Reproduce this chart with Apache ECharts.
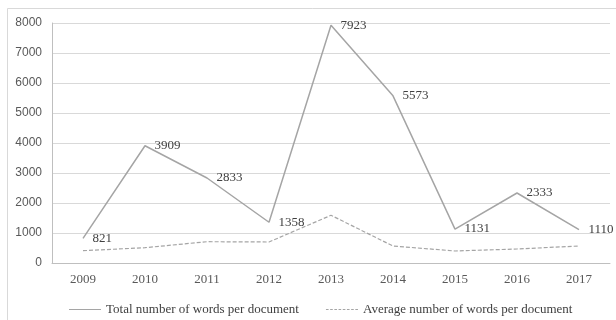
<!DOCTYPE html>
<html>
<head>
<meta charset="utf-8">
<script src="https://cdn.jsdelivr.net/npm/echarts@6/dist/echarts.min.js"></script>
<style>
  html, body { margin: 0; padding: 0; background: #ffffff; }
  #chart { width: 616px; height: 320px; }
</style>
</head>
<body>
<div id="chart"></div>
<script>
// Years on the horizontal axis
const years = ['2009', '2010', '2011', '2012', '2013', '2014', '2015', '2016', '2017'];
// Total number of words per document (labelled values)
const totalWords = [821, 3909, 2833, 1358, 7923, 5573, 1131, 2333, 1110];
// Average number of words per document
const averageWords = [410, 510, 710, 700, 1590, 567, 400, 467, 567];
// Value axis ticks
const yTicks = [0, 1000, 2000, 3000, 4000, 5000, 6000, 7000, 8000];

const serif = '"Liberation Serif", "Times New Roman", serif';
const sans = '"Liberation Sans", Arial, sans-serif';

// Legend keys: a solid stroke and a dashed stroke
const solidKey = 'path://M0,0H32V1H0Z';
let dashedPath = '';
for (let x = 0; x < 32; x += 4) {
  dashedPath += 'M' + x + ',0H' + (x + 2.5) + 'V1H' + x + 'Z';
}
const dashedKey = 'path://' + dashedPath;

const chart = echarts.init(document.getElementById('chart'), null, { renderer: 'canvas' });

chart.setOption({
  animation: false,
  backgroundColor: '#ffffff',
  graphic: [{
    type: 'rect',
    shape: { x: 7.5, y: 8.5, width: 700, height: 400 },
    style: { fill: 'none', stroke: '#d9d9d9', lineWidth: 1 },
    silent: true
  }],
  grid: { left: 52, right: 6, top: 23, bottom: 57, containLabel: false },
  legend: {
    left: 64,
    top: 298,
    itemWidth: 32,
    itemHeight: 1.2,
    itemGap: 27,
    textStyle: { fontFamily: serif, fontSize: 13, color: '#404040' },
    data: [
      { name: 'Total number of words per document', icon: solidKey, itemStyle: { color: '#a5a5a5', opacity: 1 } },
      { name: 'Average number of words per document', icon: dashedKey, itemStyle: { color: '#a5a5a5', opacity: 1 } }
    ]
  },
  xAxis: {
    type: 'category',
    data: years,
    boundaryGap: true,
    axisLine: { show: true, lineStyle: { color: '#bfbfbf', width: 1 } },
    axisTick: { show: false },
    axisLabel: { fontFamily: serif, fontSize: 13, color: '#595959', margin: 10 }
  },
  yAxis: {
    type: 'value',
    min: yTicks[0],
    max: yTicks[yTicks.length - 1],
    interval: 1000,
    axisLine: { show: true, lineStyle: { color: '#bfbfbf', width: 1 } },
    axisTick: { show: false },
    axisLabel: { fontFamily: sans, fontSize: 12, color: '#595959', margin: 10, formatter: v => String(v) },
    splitLine: { show: true, lineStyle: { color: '#d9d9d9', width: 1 } }
  },
  series: [
    {
      name: 'Total number of words per document',
      type: 'line',
      data: totalWords,
      symbol: 'circle',
      symbolSize: 1,
      showSymbol: true,
      lineStyle: { color: '#a5a5a5', width: 1.5 },
      itemStyle: { color: 'rgba(165,165,165,0)', borderWidth: 0 },
      label: {
        show: true,
        position: 'right',
        distance: 9,
        fontFamily: serif,
        fontSize: 13,
        color: '#404040'
      },
      z: 3
    },
    {
      name: 'Average number of words per document',
      type: 'line',
      data: averageWords,
      symbol: 'none',
      lineStyle: { color: '#a5a5a5', width: 1.2, type: [4, 2] },
      itemStyle: { color: '#a5a5a5' },
      z: 2
    }
  ]
});
</script>
</body>
</html>
